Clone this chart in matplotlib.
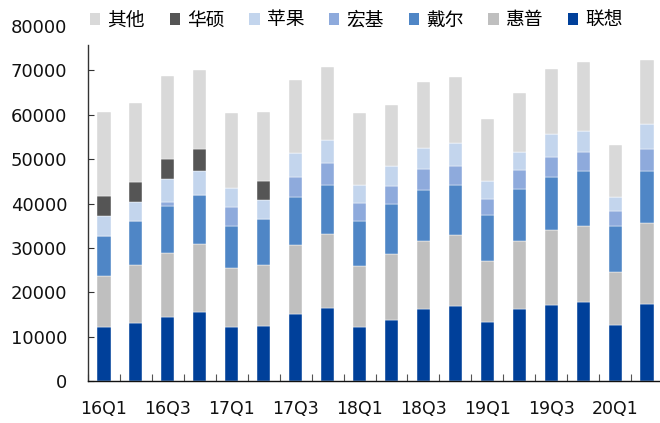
import numpy as np
import matplotlib
matplotlib.use("Agg")
import matplotlib.pyplot as plt
from matplotlib.patches import Patch

plt.rcParams['font.family'] = ['DejaVu Sans']

quarters = ["16Q1", "16Q2", "16Q3", "16Q4", "17Q1", "17Q2", "17Q3", "17Q4", "18Q1",
            "18Q2", "18Q3", "18Q4", "19Q1", "19Q2", "19Q3", "19Q4", "20Q1", "20Q2"]

lenovo = [12090, 13140, 14490, 15620, 12240, 12390, 15170, 16520, 12240,
          13670, 16150, 16820, 13370, 16150, 17200, 17800, 12690, 17350]
hp = [11640, 12990, 14420, 15320, 13140, 13820, 15470, 16600, 13740,
      14870, 15390, 16070, 13740, 15470, 16900, 17200, 11870, 18250]
dell = [8940, 9920, 10590, 11040, 9615, 10210, 10740, 11110, 10140,
        11260, 11420, 11190, 10210, 11560, 11940, 12390, 10440, 11790]
acer = [0, 0, 900, 0, 4285, 0, 4500, 4960, 4060,
        4210, 4880, 4440, 3760, 4280, 4500, 4280, 3380, 4880]
apple = [4500, 4280, 5040, 5260, 4280, 4360, 5410, 5030, 4050,
         4350, 4730, 5020, 3900, 4060, 5030, 4730, 3000, 5560]
asus = [4430, 4500, 4650, 5100, 0, 4200, 0, 0, 0,
        0, 0, 0, 0, 0, 0, 0, 0, 0]
others = [19000, 17800, 18630, 17800, 16820, 15550, 16670, 16600, 16150,
          13900, 14870, 15030, 14050, 13510, 14800, 15400, 11790, 14490]

series = [
    ("联想", lenovo, "#00409A"),
    ("惠普", hp, "#BFBFBF"),
    ("戴尔", dell, "#4F86C6"),
    ("宏基", acer, "#8EAADC"),
    ("苹果", apple, "#C3D5ED"),
    ("华硕", asus, "#555555"),
    ("其他", others, "#D9D9D9"),
]

fig = plt.figure(figsize=(6.6, 4.23), dpi=100)
ax = fig.add_axes([88 / 660, 1 - 381 / 423, (663 - 88) / 660, (381 - 26.1) / 423])

x = np.arange(len(quarters))
bottom = np.zeros(len(quarters))
for name, vals, color in series:
    v = np.array(vals, dtype=float)
    ax.bar(x, v, width=0.41, bottom=bottom, color=color, edgecolor="white",
           linewidth=0.3, label=name, zorder=2)
    bottom += v

ax.set_xlim(-0.5, len(quarters) - 0.5)
ax.set_ylim(0, 80000)
ax.set_yticks(np.arange(0, 80001, 10000))

ax.set_xticks(x[::2])
ax.set_xticklabels(quarters[::2])
ax.set_xticks(np.arange(-0.5, len(quarters), 1.0), minor=True)

for s in ["top", "right"]:
    ax.spines[s].set_visible(False)
ax.spines["left"].set_bounds(0, 75700)
ax.spines["left"].set_color("#333333")
ax.spines["bottom"].set_color("#111111")
ax.spines["left"].set_linewidth(1.0)
ax.spines["bottom"].set_linewidth(1.0)

ax.tick_params(axis="y", direction="in", length=4.5, width=0.8, color="#333333",
               labelsize=13, pad=15, labelcolor="#111111")
ax.tick_params(axis="x", which="major", length=0, labelsize=12.5, pad=14,
               labelcolor="#111111")
ax.tick_params(axis="x", which="minor", direction="in", length=5, width=0.8,
               color="#555555")
# hide the tick at 80000 while keeping its label
ax.yaxis.get_major_ticks()[-1].tick1line.set_visible(False)

handles = [Patch(facecolor=c, edgecolor="none") for _, _, c in series[::-1]]
labels = [n for n, _, _ in series[::-1]]
leg = fig.legend(handles, labels, loc="center left", bbox_to_anchor=(90 / 660, 1 - 20 / 423),
                 ncol=7, frameon=False, borderpad=0, borderaxespad=0,
                 handlelength=0.55, handleheight=0.55,
                 handletextpad=0.37, columnspacing=1.33,
                 prop={"family": ["Noto Sans CJK SC", "DejaVu Sans"], "size": 13.5,
                       "weight": "light"})

fig.savefig("out.png", dpi=100)
